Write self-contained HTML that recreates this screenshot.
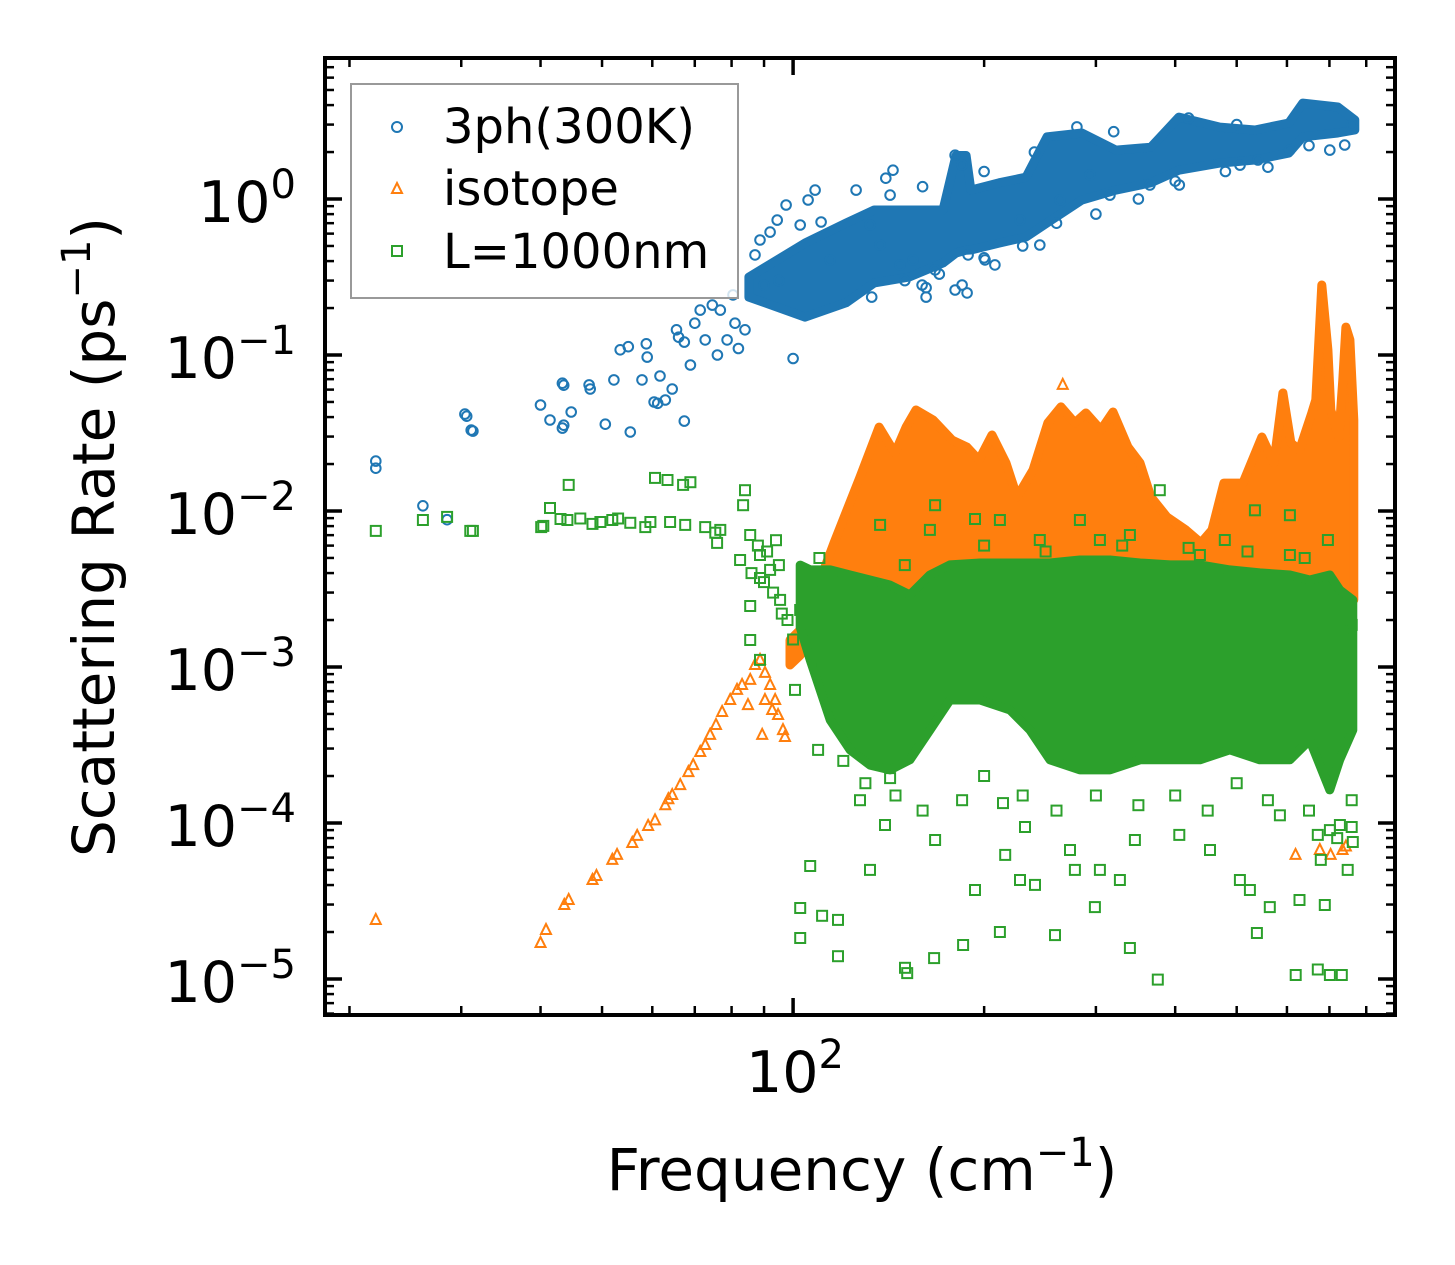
<!DOCTYPE html>
<html><head><meta charset="utf-8"><style>
html,body{margin:0;padding:0;background:#fff;}
svg{display:block;font-family:"DejaVu Sans","Liberation Sans",sans-serif;}
</style></head><body>
<svg id="chart" width="1455" height="1265" viewBox="0 0 1455 1265" xmlns="http://www.w3.org/2000/svg">
<rect x="0" y="0" width="1455" height="1265" fill="#fff"/>
<defs><clipPath id="plotclip"><rect x="325" y="58" width="1070" height="957"/></clipPath></defs>
<g id="marks" clip-path="url(#plotclip)"></g>
<g id="ticks"></g>
<rect x="325" y="58" width="1070" height="957" fill="none" stroke="#000" stroke-width="4"/>
<g id="ylabels" font-size="57" text-anchor="end"></g>
<text x="795" y="1092" font-size="57" text-anchor="middle">10<tspan font-size="40" dy="-24">2</tspan></text>
<text x="862" y="1190" font-size="58" text-anchor="middle">Frequency (cm<tspan font-size="40" dy="-24">−1</tspan><tspan dy="24">)</tspan></text>
<text transform="translate(114,537) rotate(-90)" font-size="58" text-anchor="middle">Scattering Rate (ps<tspan font-size="40" dy="-24">−1</tspan><tspan dy="24">)</tspan></text>
<g>
<rect x="351" y="84" width="387" height="214" fill="#fff" fill-opacity="0.8" stroke="#999" stroke-width="2"/>
<circle cx="397" cy="127" r="5" fill="none" stroke="#1f77b4" stroke-width="2"/>
<text x="443" y="143" font-size="48">3ph(300K)</text>
<polygon points="397,183 402,193 392,193" fill="none" stroke="#ff7f0e" stroke-width="2"/>
<text x="443" y="205" font-size="48">isotope</text>
<rect x="392" y="246" width="10" height="10" fill="none" stroke="#2ca02c" stroke-width="2"/>
<text x="443" y="268" font-size="48">L=1000nm</text>
</g>
</svg>
<script>
// ---- data ----
const blueBandF = [85.2,104.4,121.2,134.2,152.3,172.3,180.6,187.3,190.6,211.1,232.8,251.2,285.2,322.7,366.3,405.4,470.3,534.2,604.0,635.5,721.7,767.4];
const blueBandHi = [0.316,0.522,0.702,0.85,0.85,0.85,1.9,1.9,1.14,1.27,1.38,2.5,2.65,2.06,2.15,3.35,2.89,2.77,3.07,4.12,3.89,3.21];
const blueBandLo = [0.235,0.175,0.216,0.29,0.316,0.389,0.45,0.47,0.471,0.522,0.571,0.702,0.985,1.14,1.27,1.53,1.7,1.78,1.97,2.5,2.65,2.77];
const blueF = [22.0,22.0,26.1,28.5,30.4,30.6,31.1,31.3,40.0,41.4,43.3,43.5,43.3,43.5,44.7,47.7,47.9,50.6,52.2,53.4,55.0,55.4,57.8,58.7,58.9,60.4,61.2,61.7,62.9,64.5,65.5,66,67.4,67.4,68.9,70,71.4,72.7,74.6,76.8,76,78.7,80.4,81,84.0,82,100,87.1,88.7,92.0,94.4,97.5,102.6,105.6,108.3,110.7,114.4,125.7,132.2,137.1,142.2,143.7,147.4,154.5,159.7,167.4,180,184.6,188.7,200.6,208,227.8,244.8,263.3,293.7,315.6,365,406,506,540,606,701,740,759,180,184.6,140,133,162,188,162,150,170,200,230,260,300,350,400,480,560,650,160,200,240,280,320,420,500,95,90];
const blueR = [0.0209,0.0188,0.0108,0.0088,0.0418,0.0405,0.033,0.0325,0.0478,0.0383,0.034,0.0355,0.066,0.064,0.0431,0.0643,0.0605,0.036,0.0692,0.108,0.113,0.0321,0.0692,0.118,0.097,0.05,0.049,0.0733,0.0515,0.0605,0.145,0.13,0.121,0.0377,0.0863,0.16,0.194,0.125,0.209,0.194,0.1,0.125,0.243,0.16,0.145,0.11,0.095,0.438,0.546,0.614,0.733,0.915,0.681,0.985,1.14,0.712,0.407,1.14,0.681,0.507,1.06,1.53,0.378,0.407,0.281,0.351,0.261,0.281,0.438,0.407,0.378,0.733,0.507,0.985,1.43,1.06,1.23,1.23,1.65,1.78,2.06,2.06,2.22,2.98,1.91,1.65,1.36,0.235,0.235,0.25,0.27,0.3,0.33,0.42,0.5,0.7,0.8,1.0,1.3,1.5,1.6,2.2,1.2,1.5,2.0,2.9,2.7,3.3,3.0,0.3,0.28];

const orangeBandF = [98.9,102.6,106.4,110.3,116.0,127.5,136.6,144.7,150.7,156.2,166.2,178.0,187.9,196.3,205.8,216.5,225.4,238.8,252.1,264.3,278.0,289.3,305.5,319.2,337.1,352.0,366.3,388.1,415.8,439.1,457.1,477.4,511.3,547.9,572.3,591.3,608.7,628,656.6,666.2,680.8,696,703.5,724.2,734.8,743,754,764.6];
const orangeBandHi = [0.00149,0.00173,0.00269,0.00361,0.00624,0.0165,0.0345,0.0235,0.0345,0.0444,0.0383,0.0285,0.0257,0.0212,0.0307,0.0203,0.0123,0.0183,0.0367,0.0465,0.0367,0.0425,0.0331,0.0431,0.0257,0.0203,0.0123,0.00916,0.00755,0.00624,0.00755,0.0151,0.0151,0.0298,0.0203,0.0571,0.0273,0.0246,0.0425,0.0515,0.281,0.108,0.0444,0.0298,0.0692,0.151,0.125,0.0383];
const orangeBandLo = [0.00103,0.00119,0.00149,0.00269,0.00269,0.00269,0.00269,0.00269,0.00269,0.00269,0.00269,0.00269,0.00269,0.00269,0.00269,0.00269,0.00269,0.00269,0.00269,0.00269,0.00269,0.00269,0.00269,0.00269,0.00269,0.00269,0.00269,0.00269,0.00269,0.00269,0.00269,0.00269,0.00269,0.00269,0.00269,0.00269,0.00269,0.00269,0.00269,0.00269,0.00269,0.00269,0.00269,0.00269,0.00269,0.00269,0.00269,0.00269];
const orangeF = [22.0,40.0,40.8,43.6,44.3,48.3,49.0,51.9,52.8,55.8,56.8,59.1,60.6,62.9,63.6,64.5,66.4,68.4,69.6,71.4,72.7,74.0,75.6,77.3,79.6,81.6,83.1,85.6,87.1,88.7,90.3,92,93.7,96.4,97.1,84.9,90.3,92.7,94.7,89.4,266,703,676,743,619,734];
const orangeR = [0.0000239,0.000017,0.0000206,0.0000298,0.0000321,0.0000431,0.0000457,0.000058,0.0000624,0.0000744,0.0000826,0.0000957,0.000104,0.00013,0.000142,0.000151,0.000175,0.000212,0.000235,0.000285,0.000316,0.000367,0.000425,0.000515,0.000614,0.000713,0.000767,0.000826,0.00103,0.00111,0.000916,0.000767,0.000614,0.000394,0.000356,0.00057,0.000614,0.00053,0.000492,0.000367,0.0643,0.0000624,0.0000671,0.0000706,0.0000624,0.0000671];

const greenBandF = [102.6,106.4,114.4,123,132.2,142.2,152.8,164.3,176.7,197,219.7,236.2,254,283.1,315.6,352,392.5,437.5,487.7,543.7,606.4,651.9,701,726.6,762];
const greenBandHi = [0.0045,0.0042,0.00419,0.00389,0.00361,0.00335,0.0029,0.00389,0.00451,0.00464,0.00464,0.00464,0.00464,0.00485,0.00485,0.00464,0.00451,0.00451,0.00419,0.00401,0.00389,0.00361,0.00389,0.00312,0.00269];
const greenBandLo = [0.0018,0.00111,0.000457,0.000294,0.000235,0.000219,0.000254,0.000394,0.000614,0.000614,0.00053,0.000394,0.000254,0.000219,0.000219,0.000254,0.000254,0.000254,0.000294,0.000254,0.000254,0.00034,0.000163,0.000254,0.000394];
const greenF = [22.0,26.1,28.5,31.0,31.3,40.1,40.4,41.4,43.0,44.1,44.3,46.2,48.3,49.7,51.9,53.0,55.4,58.5,59.6,60.6,63.4,64.0,67.1,67.6,68.9,72.7,75.4,75.9,76.8,82.5,84.0,83.4,85.6,88.7,88.7,85.6,85.6,88.7,92,95.4,102.6,104.4,100.7,110.3,109.5,114.4,106.4,102.6,102.6,111.1,117.7,117.7,127.5,132.2,139.6,142.2,150.1,151.3,166.8,167.4,184.6,193.5,185.3,211.8,214.2,215.9,227.8,240.5,232,258.6,273.1,278,298.9,304.4,327.3,345.6,339.4,375.6,406,453.8,505.8,524.5,538.1,563.9,584.8,619.4,628,671.1,678.5,688.4,701.1,727,748,759,759,762,701.1,732,671.1,745.5,748,759,167.4,339.4,378.3,534.2,606.4,696,193.5,137.1,164.3,211.8,244.8,283.1,304.4,437.5,478.9,606.4,120,130,145,160,200,230,260,300,350,400,450,500,560,650,720,110,150,200,250,330,420,520,640,86,90,93,95,98,100,96,91,88,94];
const greenR = [0.00745,0.00876,0.00916,0.00745,0.00745,0.00789,0.00802,0.01045,0.00889,0.00876,0.0147,0.00895,0.00826,0.0085,0.00876,0.00895,0.0084,0.00789,0.0085,0.0163,0.0158,0.0085,0.0147,0.00814,0.0153,0.00789,0.00726,0.00624,0.00756,0.00485,0.0136,0.0109,0.00702,0.00522,0.00372,0.00246,0.00149,0.00111,0.00419,0.00269,0.00232,0.002,0.000713,0.00106,0.000294,0.00057,0.000053,0.0000183,0.0000285,0.0000254,0.000014,0.0000239,0.00014,0.00005,0.0000971,0.000194,0.0000118,0.0000109,0.0000136,0.0000778,0.00014,0.0000372,0.0000165,0.00002,0.000134,0.0000624,0.0000431,0.0000401,0.0000942,0.0000191,0.0000671,0.00005,0.0000289,0.00005,0.0000431,0.0000778,0.0000158,0.0000099,0.0000838,0.0000671,0.0000431,0.0000372,0.0000197,0.0000289,0.000112,0.0000106,0.0000321,0.0000838,0.000058,0.0000298,0.00009,0.0000971,0.00005,0.00014,0.0000942,0.0000755,0.0000106,0.0000106,0.0000115,0.000713,0.00173,0.00186,0.0109,0.00702,0.0136,0.0101,0.0094,0.00652,0.00889,0.00814,0.00756,0.00876,0.00652,0.00876,0.00652,0.00522,0.00652,0.00522,0.00025,0.00018,0.00015,0.00012,0.0002,0.00015,0.00012,0.00015,0.00013,0.00015,0.00012,0.00018,0.00014,0.00012,0.00008,0.005,0.0045,0.006,0.0055,0.006,0.0058,0.0055,0.005,0.004,0.0035,0.003,0.0045,0.002,0.0015,0.0022,0.0055,0.006,0.0065];

const yTickExps = [0,-1,-2,-3,-4,-5];
const yTickLabels = ["0","−1","−2","−3","−4","−5"];

// ---- axes ----
const X0=325,X1=1395,Y0=58,Y1=1015;
const XMIN=Math.log10(18.3), XMAX=Math.log10(888);
const YMAX=0.904, YMIN=-5.231;
function sx(f){return X0+(Math.log10(f)-XMIN)/(XMAX-XMIN)*(X1-X0);}
function sy(r){return Y0+(YMAX-Math.log10(r))/(YMAX-YMIN)*(Y1-Y0);}
const NS="http://www.w3.org/2000/svg";
const marks=document.getElementById('marks');
const ticks=document.getElementById('ticks');
const ylabels=document.getElementById('ylabels');

function band(F,Hi,Lo,color,name){
  const pts=[];
  for(let i=0;i<F.length;i++) pts.push(sx(F[i]).toFixed(1)+','+sy(Hi[i]).toFixed(1));
  for(let i=F.length-1;i>=0;i--) pts.push(sx(F[i]).toFixed(1)+','+sy(Lo[i]).toFixed(1));
  const p=document.createElementNS(NS,'polygon');
  p.setAttribute('points',pts.join(' '));
  p.setAttribute('fill',color);
  p.setAttribute('stroke',color);
  p.setAttribute('stroke-width','9');
  p.setAttribute('stroke-linejoin','round');
  
  
  marks.appendChild(p);
}
function circles(F,R,color){
  for(let i=0;i<F.length;i++){
    const c=document.createElementNS(NS,'circle');
    c.setAttribute('cx',sx(F[i]).toFixed(1));c.setAttribute('cy',sy(R[i]).toFixed(1));
    c.setAttribute('r','4.8');c.setAttribute('fill','none');c.setAttribute('stroke',color);c.setAttribute('stroke-width','2');
    
    
    marks.appendChild(c);
  }
}
function triangles(F,R,color){
  for(let i=0;i<F.length;i++){
    const x=sx(F[i]),y=sy(R[i]);
    const t=document.createElementNS(NS,'polygon');
    t.setAttribute('points',`${x},${y-6} ${x+5},${y+4} ${x-5},${y+4}`);
    t.setAttribute('fill','none');t.setAttribute('stroke',color);t.setAttribute('stroke-width','2');
    
    
    marks.appendChild(t);
  }
}
function squares(F,R,color){
  for(let i=0;i<F.length;i++){
    const x=sx(F[i]),y=sy(R[i]);
    const s=document.createElementNS(NS,'rect');
    s.setAttribute('x',(x-5).toFixed(1));s.setAttribute('y',(y-5).toFixed(1));
    s.setAttribute('width','10');s.setAttribute('height','10');
    s.setAttribute('fill','none');s.setAttribute('stroke',color);s.setAttribute('stroke-width','2');
    
    
    marks.appendChild(s);
  }
}
band(blueBandF,blueBandHi,blueBandLo,'#1f77b4','band-3ph');
circles(blueF,blueR,'#1f77b4');
band(orangeBandF,orangeBandHi,orangeBandLo,'#ff7f0e','band-isotope');
triangles(orangeF,orangeR,'#ff7f0e');
band(greenBandF,greenBandHi,greenBandLo,'#2ca02c','band-L1000nm');
squares(greenF,greenR,'#2ca02c');

function line(x1,y1,x2,y2,w,name){
  const l=document.createElementNS(NS,'line');
  l.setAttribute('x1',x1);l.setAttribute('y1',y1);l.setAttribute('x2',x2);l.setAttribute('y2',y2);
  l.setAttribute('stroke','#000');l.setAttribute('stroke-width',w);
  
  
  ticks.appendChild(l);
}
// y ticks
for(let e=-6;e<=0;e++){
  for(let m=1;m<10;m++){
    const v=m*Math.pow(10,e);
    const y=sy(v);
    if(y<Y0+1||y>Y1-1) continue;
    const major=(m===1);
    const L=major?17:9, w=major?3.5:2.5;
    line(X0,y,X0+L,y,w,major?'y-major-tick':'y-minor-tick');
    line(X1,y,X1-L,y,w,major?'y-major-tick-right':'y-minor-tick-right');
  }
}
// x ticks
for(let e=1;e<=2;e++){
  for(let m=1;m<10;m++){
    const v=m*Math.pow(10,e);
    const x=sx(v);
    if(x<X0+1||x>X1-1) continue;
    const major=(v===100);
    const L=major?17:9, w=major?3.5:2.5;
    line(x,Y1,x,Y1-L,w,major?'x-major-tick':'x-minor-tick');
    line(x,Y0,x,Y0+L,w,major?'x-major-tick-top':'x-minor-tick-top');
  }
}
// y tick labels
for(let i=0;i<yTickExps.length;i++){
  const y=sy(Math.pow(10,yTickExps[i]));
  const t=document.createElementNS(NS,'text');
  t.setAttribute('x','296');t.setAttribute('y',(y+23).toFixed(1));
  const a=document.createElementNS(NS,'tspan');a.textContent='10';
  const b=document.createElementNS(NS,'tspan');b.setAttribute('font-size','40');b.setAttribute('dy','-24');b.textContent=yTickLabels[i];
  t.appendChild(a);t.appendChild(b);
  
  
  ylabels.appendChild(t);
}
</script>
</body></html>
